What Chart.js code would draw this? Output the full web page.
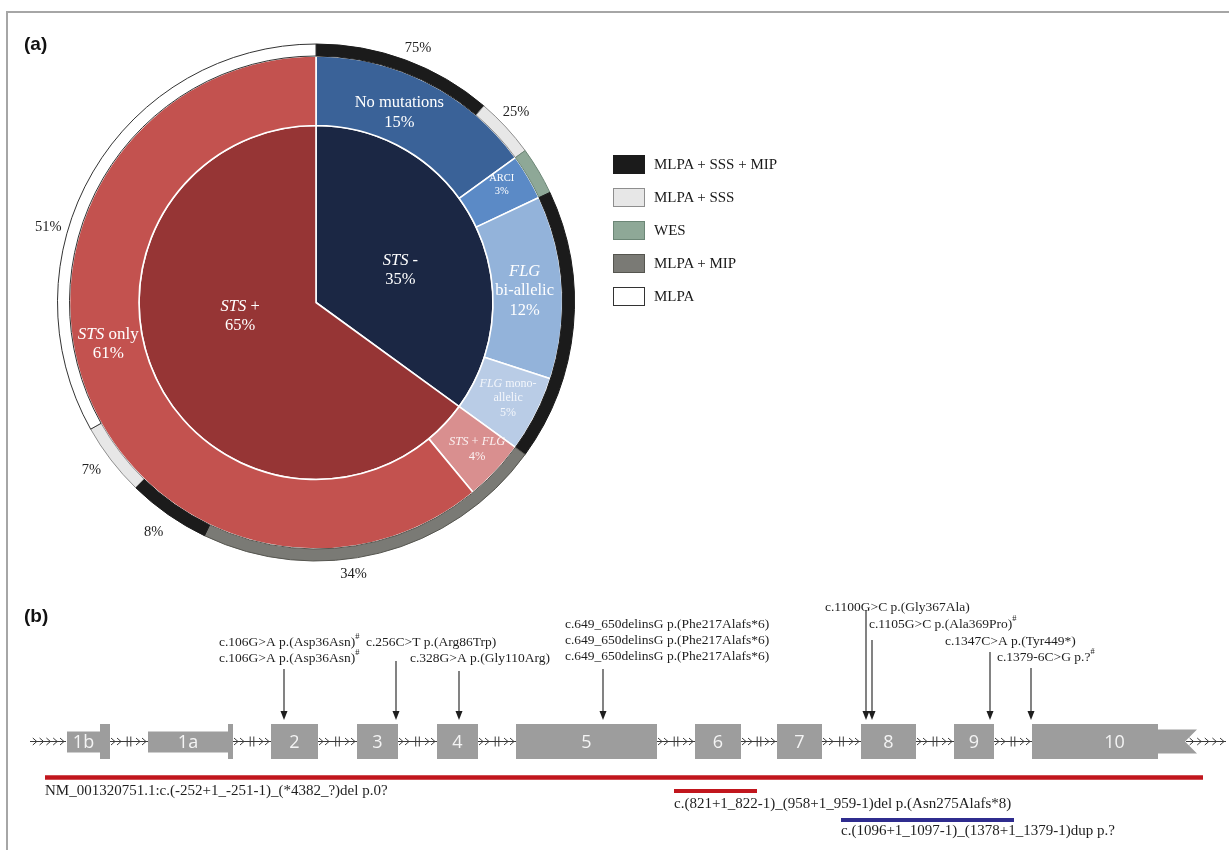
<!DOCTYPE html>
<html>
<head>
<meta charset="utf-8">
<title>Ichthyosis cohort: diagnostic yield and STS variants</title>
<script src="https://cdn.jsdelivr.net/npm/chart.js@4.4.1/dist/chart.umd.min.js"></script>
<style>
  html, body { margin: 0; padding: 0; background: #ffffff; }
  #fig { position: relative; width: 1229px; height: 850px; overflow: hidden; font-family: "Liberation Serif", "Times New Roman", serif; }
  .frame { position: absolute; left: 6px; top: 11px; width: 1300px; height: 900px; border-left: 2px solid #a6a6a6; border-top: 2px solid #a6a6a6; z-index: 5; pointer-events: none; }
  .tag { position: absolute; font-family: "Liberation Sans", Arial, sans-serif; font-weight: bold; font-size: 19px; color: #111; z-index: 6; }
  canvas { position: absolute; }
  #legend { position: absolute; left: 613px; top: 155px; width: 220px; height: 160px; }
  .lg { position: absolute; left: 0; height: 19px; width: 220px; }
  .lg .sw { position: absolute; left: 0; top: 0; width: 32px; height: 19px; box-sizing: border-box; border: 1px solid #777; }
  .lg .tx { position: absolute; left: 41px; top: 0; line-height: 19px; font-size: 15px; color: #1a1a1a; white-space: nowrap; }
</style>
</head>
<body>
<div id="fig">
  <div class="frame"></div>
  <div class="tag" style="left:24px; top:33px;">(a)</div>
  <canvas id="pie" width="620" height="600" style="left:0; top:0;"></canvas>
  <div id="legend"></div>
  <div class="tag" style="left:24px; top:605px;">(b)</div>
  <canvas id="gene" width="1229" height="255" style="left:0; top:595px;"></canvas>
</div>
<script>
// ---------------- Panel (a): cohort breakdown ----------------
const cohortGroups = ['STS -', 'STS +'];
const cohortShare = [35, 65];

const diagnosisLabels = ['No mutations', 'ARCI', 'FLG bi-allelic', 'FLG mono-allelic', 'STS + FLG', 'STS only'];
const diagnosisShare = [15, 3, 12, 5, 4, 61];

const methodNames = ['MLPA + SSS + MIP', 'MLPA + SSS', 'WES', 'MLPA + MIP', 'MLPA'];

// testing strategy inside the unsolved group (percent of "No mutations")
const noMutationMethods = ['MLPA + SSS + MIP', 'MLPA + SSS'];
const noMutationMethodPct = [75, 25];
// testing strategy inside the STS + group (percent of STS +)
const stsPosMethods = ['MLPA + MIP', 'MLPA + SSS + MIP', 'MLPA + SSS', 'MLPA'];
const stsPosMethodPct = [34, 8, 7, 51];

// ---------------- Panel (b): STS gene model and variants ----------------
const exonNames = ['1b', '1a', '2', '3', '4', '5', '6', '7', '8', '9', '10'];
// extents along the schematic axis: untranslated part / coding part
const exonUtr = [[67, 100], [148, 228], null, null, null, null, null, null, null, null, [1158, 1197]];
const exonCds = [[100, 110], [228, 233], [271, 318], [357, 398], [437, 478], [516, 657], [695, 741], [777, 822], [861, 916], [954, 994], [1032, 1158]];

const variantNames = [
  ['c.106G>A p.(Asp36Asn)#', 'c.106G>A p.(Asp36Asn)#'],
  ['c.256C>T p.(Arg86Trp)'],
  ['c.328G>A p.(Gly110Arg)'],
  ['c.649_650delinsG p.(Phe217Alafs*6)', 'c.649_650delinsG p.(Phe217Alafs*6)', 'c.649_650delinsG p.(Phe217Alafs*6)'],
  ['c.1100G>C p.(Gly367Ala)'],
  ['c.1105G>C p.(Ala369Pro)#'],
  ['c.1347C>A p.(Tyr449*)'],
  ['c.1379-6C>G p.?#']
];
const variantPos = [284, 396, 459, 603, 866, 872, 990, 1031];

const cnvNames = [
  'NM_001320751.1:c.(-252+1_-251-1)_(*4382_?)del p.0?',
  'c.(821+1_822-1)_(958+1_959-1)del p.(Asn275Alafs*8)',
  'c.(1096+1_1097-1)_(1378+1_1379-1)dup p.?'
];
const cnvType = ['del', 'del', 'dup'];
const cnvStart = [45, 674, 841];
const cnvEnd = [1203, 757, 1014];

// ---------------- styling ----------------
const SERIF = '"Liberation Serif", "Times New Roman", serif';
const methodStyle = {
  'MLPA + SSS + MIP': { fill: '#1b1b1b', line: '#1b1b1b' },
  'MLPA + SSS':       { fill: '#e7e7e7', line: '#8e8e8e' },
  'WES':              { fill: '#8ea897', line: '#6c8676' },
  'MLPA + MIP':       { fill: '#7a7a75', line: '#55554f' },
  'MLPA':             { fill: '#ffffff', line: '#333333' }
};
const groupColors = ['#1b2744', '#963535'];
const diagnosisColors = ['#3a6298', '#5b8ac6', '#93b3da', '#b9cce6', '#d98f8f', '#c3524f'];

// outer ring assembled from the group shares and the per-group method split
const methodRing = [];
noMutationMethodPct.forEach((p, i) => methodRing.push({ v: diagnosisShare[0] * p / 100, m: noMutationMethods[i], pct: p }));
methodRing.push({ v: diagnosisShare[1], m: 'WES' });
methodRing.push({ v: diagnosisShare[2] + diagnosisShare[3], m: 'MLPA + SSS + MIP' });
stsPosMethodPct.forEach((p, i) => methodRing.push({ v: cohortShare[1] * p / 100, m: stsPosMethods[i], pct: p }));

// ---------------- text helpers ----------------
function runFont(r, size) {
  const s = r.sup ? size * 0.62 : size;
  return (r.i ? 'italic ' : '') + s + 'px ' + SERIF;
}
function drawRich(ctx, lines, cx, cy, size, lineH, color, align) {
  ctx.save();
  ctx.fillStyle = color;
  ctx.textBaseline = 'middle';
  ctx.textAlign = 'left';
  const n = lines.length;
  lines.forEach((runs, li) => {
    const y = cy + (li - (n - 1) / 2) * lineH;
    const widths = runs.map(r => { ctx.font = runFont(r, size); return ctx.measureText(r.t).width; });
    const total = widths.reduce((a, b) => a + b, 0);
    let x = align === 'left' ? cx : cx - total / 2;
    runs.forEach((r, k) => {
      ctx.font = runFont(r, size);
      ctx.fillText(r.t, x, r.sup ? y - size * 0.38 : y);
      x += widths[k];
    });
  });
  ctx.restore();
}
// split a plain label into runs, turning a trailing "#" into a superscript
function labelRuns(text) {
  if (text.endsWith('#')) return [{ t: text.slice(0, -1) }, { t: '#', sup: true }];
  return [{ t: text }];
}

// ---------------- pie label placement ----------------
const groupLabelText = [
  [[{ t: 'STS', i: true }, { t: ' -' }], [{ t: cohortShare[0] + '%' }]],
  [[{ t: 'STS', i: true }, { t: ' +' }], [{ t: cohortShare[1] + '%' }]]
];
const groupLabelPlace = [
  { frac: 0.55, rf: 0.51, size: 16.5, lh: 19 },
  { frac: 0.573, rf: 0.435, size: 16.5, lh: 19 }
];
const diagnosisLabelText = [
  [[{ t: 'No mutations' }], [{ t: diagnosisShare[0] + '%' }]],
  [[{ t: 'ARCI' }], [{ t: diagnosisShare[1] + '%' }]],
  [[{ t: 'FLG', i: true }], [{ t: 'bi-allelic' }], [{ t: diagnosisShare[2] + '%' }]],
  [[{ t: 'FLG', i: true }, { t: ' mono-' }], [{ t: 'allelic' }], [{ t: diagnosisShare[3] + '%' }]],
  [[{ t: 'STS', i: true }, { t: ' + ' }, { t: 'FLG', i: true }], [{ t: diagnosisShare[4] + '%' }]],
  [[{ t: 'STS', i: true }, { t: ' only' }], [{ t: diagnosisShare[5] + '%' }]]
];
const diagnosisLabelPlace = [
  { frac: 0.44, rf: 0.43, size: 16.5, lh: 20, color: '#ffffff' },
  { frac: 0.33, rf: 0.62, size: 10.5, lh: 13, color: '#ffffff' },
  { frac: 0.51, rf: 0.46, size: 16.5, lh: 19.5, color: '#ffffff' },
  { frac: 0.47, rf: 0.54, size: 12, lh: 14.5, color: '#f3f6fb' },
  { frac: 0.44, rf: 0.59, size: 12.5, lh: 15.5, color: '#fbf1f1' },
  { frac: 0.539, rf: 0.5, size: 17, lh: 19, color: '#ffffff' }
];
// percentages around the rim: index into the method ring, position along the arc, distance from centre
const rimLabelPlace = [
  { idx: 0, frac: 0.54, r: 274 },
  { idx: 1, frac: 0.44, r: 276 },
  { idx: 4, frac: 0.58, r: 274 },
  { idx: 5, frac: 0.52, r: 281 },
  { idx: 6, frac: 0.55, r: 280 },
  { idx: 7, frac: 0.377, r: 278 }
];

const pieLabels = {
  id: 'pieLabels',
  afterDatasetsDraw(chart) {
    const ctx = chart.ctx;
    const place = (arc, frac, r) => {
      const a = arc.startAngle + frac * (arc.endAngle - arc.startAngle);
      return [arc.x + r * Math.cos(a), arc.y + r * Math.sin(a)];
    };
    // inner pie
    chart.getDatasetMeta(2).data.forEach((arc, i) => {
      const p = groupLabelPlace[i];
      const [x, y] = place(arc, p.frac, p.rf * arc.outerRadius);
      drawRich(ctx, groupLabelText[i], x, y, p.size, p.lh, '#ffffff');
    });
    // diagnosis ring
    chart.getDatasetMeta(1).data.forEach((arc, i) => {
      const p = diagnosisLabelPlace[i];
      const r = arc.innerRadius + p.rf * (arc.outerRadius - arc.innerRadius);
      const [x, y] = place(arc, p.frac, r);
      drawRich(ctx, diagnosisLabelText[i], x, y, p.size, p.lh, p.color);
    });
    // method ring percentages
    const rim = chart.getDatasetMeta(0).data;
    rimLabelPlace.forEach(p => {
      const [x, y] = place(rim[p.idx], p.frac, p.r);
      drawRich(ctx, [[{ t: methodRing[p.idx].pct + '%' }]], x, y, 14.5, 0, '#222222');
    });
  }
};

new Chart(document.getElementById('pie'), {
  type: 'doughnut',
  data: {
    labels: methodRing.map(s => s.m),
    datasets: [
      {
        label: 'Method',
        data: methodRing.map(s => s.v),
        backgroundColor: methodRing.map(s => methodStyle[s.m].fill),
        borderColor: methodRing.map(s => methodStyle[s.m].line),
        borderWidth: 1,
        weight: 12
      },
      {
        label: 'Diagnosis',
        data: diagnosisShare,
        backgroundColor: diagnosisColors,
        borderColor: '#ffffff',
        borderWidth: 1.6,
        weight: 69.5
      },
      {
        label: 'STS status',
        data: cohortShare,
        backgroundColor: groupColors,
        borderColor: '#ffffff',
        borderWidth: 1.6,
        weight: 177
      }
    ]
  },
  options: {
    responsive: false,
    animation: false,
    cutout: 0,
    radius: 258.5,
    layout: { padding: { left: 58, right: 46, top: 44.5, bottom: 39.5 } },
    plugins: { legend: { display: false }, tooltip: { enabled: false } },
    events: []
  },
  plugins: [pieLabels]
});

// legend of testing strategies
const legendEl = document.getElementById('legend');
methodNames.forEach((name, i) => {
  const row = document.createElement('div');
  row.className = 'lg';
  row.style.top = (i * 33) + 'px';
  const sw = document.createElement('div');
  sw.className = 'sw';
  sw.style.background = methodStyle[name].fill;
  sw.style.borderColor = methodStyle[name].line;
  const tx = document.createElement('div');
  tx.className = 'tx';
  tx.textContent = name;
  row.appendChild(sw);
  row.appendChild(tx);
  legendEl.appendChild(row);
});

// ---------------- Panel (b) drawing ----------------
const track = { gene: 741.5, cnv: [777.5, 791, 820], cnvText: [791, 804.5, 831], tip: 720 };
const exonHalf = { cds: 17.5, utr: 11 };
const flanks = [[30, 66], [1186, 1226]];
const variantArrowTop = [669, 661, 671, 669, 610, 640, 652, 668];
const variantTextLeft = [219, 366, 410, 565, 825, 869, 945, 997];
const variantTextTop = [642, 642, 658, 624, 607, 624, 641, 657];
const cnvColor = { del: '#c1161d', dup: '#2f2c8e' };

function exonSpan(i) {
  const parts = [exonUtr[i], exonCds[i]].filter(Boolean);
  return [Math.min(...parts.map(p => p[0])), Math.max(...parts.map(p => p[1]))];
}

const geneModel = {
  id: 'geneModel',
  beforeDatasetsDraw(chart) {
    const ctx = chart.ctx;
    const X = v => chart.scales.x.getPixelForValue(v);
    const Y = v => chart.scales.y.getPixelForValue(v);
    const yc = Y(track.gene);

    ctx.save();
    ctx.strokeStyle = '#3a3a3a';
    ctx.lineWidth = 1;
    const chevron = (xt) => {
      ctx.beginPath();
      ctx.moveTo(xt - 4, yc - 3.5);
      ctx.lineTo(xt, yc);
      ctx.lineTo(xt - 4, yc + 3.5);
      ctx.stroke();
    };
    const baseline = (a, b) => {
      ctx.beginPath();
      ctx.moveTo(a, yc);
      ctx.lineTo(b, yc);
      ctx.stroke();
    };
    // flanking sequence
    flanks.forEach(([a, b]) => {
      const xa = X(a), xb = X(b);
      baseline(xa, xb);
      const step = (xb - xa - 2) / 5;
      for (let k = 1; k <= 5; k++) chevron(xa + step * k);
    });
    // introns between consecutive exons
    for (let i = 0; i < exonNames.length - 1; i++) {
      const xa = X(exonSpan(i)[1]), xb = X(exonSpan(i + 1)[0]);
      const mid = (xa + xb) / 2;
      baseline(xa, xb);
      chevron(xa + 5); chevron(xa + 11);
      chevron(xb - 8); chevron(xb - 2);
      ctx.beginPath();
      ctx.moveTo(mid - 1.8, yc - 5); ctx.lineTo(mid - 1.8, yc + 5);
      ctx.moveTo(mid + 1.8, yc - 5); ctx.lineTo(mid + 1.8, yc + 5);
      ctx.stroke();
    }

    // exons
    ctx.fillStyle = '#9d9d9d';
    exonNames.forEach((name, i) => {
      const c = exonCds[i];
      ctx.fillRect(X(c[0]), yc - exonHalf.cds, X(c[1]) - X(c[0]), exonHalf.cds * 2);
      const u = exonUtr[i];
      if (u) {
        const x0 = X(u[0]), x1 = X(u[1]), h = exonHalf.utr;
        ctx.beginPath();
        if (u[0] >= c[1]) {
          // 3' end drawn with a notched tail
          ctx.moveTo(x0, yc - h - 1); ctx.lineTo(x1, yc - h - 1);
          ctx.lineTo(x1 - 12, yc); ctx.lineTo(x1, yc + h + 1);
          ctx.lineTo(x0, yc + h + 1);
        } else {
          ctx.rect(x0, yc - h + 1, x1 - x0, 2 * h - 1);
        }
        ctx.closePath();
        ctx.fill();
      }
    });
    // exon numbers
    ctx.fillStyle = '#f4f4f4';
    ctx.font = '18px "Open Sans", "Liberation Sans", sans-serif';
    ctx.textAlign = 'center';
    ctx.textBaseline = 'middle';
    exonNames.forEach((name, i) => {
      const u = exonUtr[i];
      const span = (u && u[1] <= exonCds[i][0]) ? u : exonSpan(i);
      ctx.fillText(name, X((span[0] + span[1]) / 2), yc + 1);
    });
    ctx.restore();
  },
  afterDatasetsDraw(chart) {
    const ctx = chart.ctx;
    const X = v => chart.scales.x.getPixelForValue(v);
    const Y = v => chart.scales.y.getPixelForValue(v);
    ctx.save();
    // arrow heads
    ctx.fillStyle = '#1e1e1e';
    variantPos.forEach(p => {
      const x = X(p), y = Y(track.tip);
      ctx.beginPath();
      ctx.moveTo(x, y);
      ctx.lineTo(x - 3.5, y - 9);
      ctx.lineTo(x + 3.5, y - 9);
      ctx.closePath();
      ctx.fill();
    });
    ctx.restore();
    // variant descriptions
    variantNames.forEach((lines, i) => {
      const runs = lines.map(labelRuns);
      const y0 = Y(variantTextTop[i]);
      drawRich(ctx, runs, X(variantTextLeft[i]), y0 + (runs.length - 1) * 16 / 2, 13.5, 16, '#1e1e1e', 'left');
    });
    // copy number variant descriptions
    cnvNames.forEach((t, i) => {
      drawRich(ctx, [[{ t }]], X(cnvStart[i]), Y(track.cnvText[i]), 15, 0, '#1e1e1e', 'left');
    });
  }
};

const geneDatasets = [];
cnvNames.forEach((t, i) => {
  geneDatasets.push({
    label: t,
    data: [{ x: cnvStart[i], y: track.cnv[i] }, { x: cnvEnd[i], y: track.cnv[i] }],
    showLine: true,
    borderColor: cnvColor[cnvType[i]],
    borderWidth: i === 0 ? 4.5 : 4,
    borderCapStyle: 'butt',
    pointRadius: 0
  });
});
variantPos.forEach((p, i) => {
  geneDatasets.push({
    label: variantNames[i][0],
    data: [{ x: p, y: variantArrowTop[i] }, { x: p, y: track.tip - 8 }],
    showLine: true,
    borderColor: '#1e1e1e',
    borderWidth: 1.1,
    pointRadius: 0
  });
});

new Chart(document.getElementById('gene'), {
  type: 'scatter',
  data: { datasets: geneDatasets },
  options: {
    responsive: false,
    animation: false,
    layout: { padding: 0 },
    scales: {
      x: { type: 'linear', min: 0, max: 1229, display: false },
      y: { type: 'linear', min: 595, max: 850, reverse: true, display: false }
    },
    plugins: { legend: { display: false }, tooltip: { enabled: false } },
    events: []
  },
  plugins: [geneModel]
});
</script>
</body>
</html>
